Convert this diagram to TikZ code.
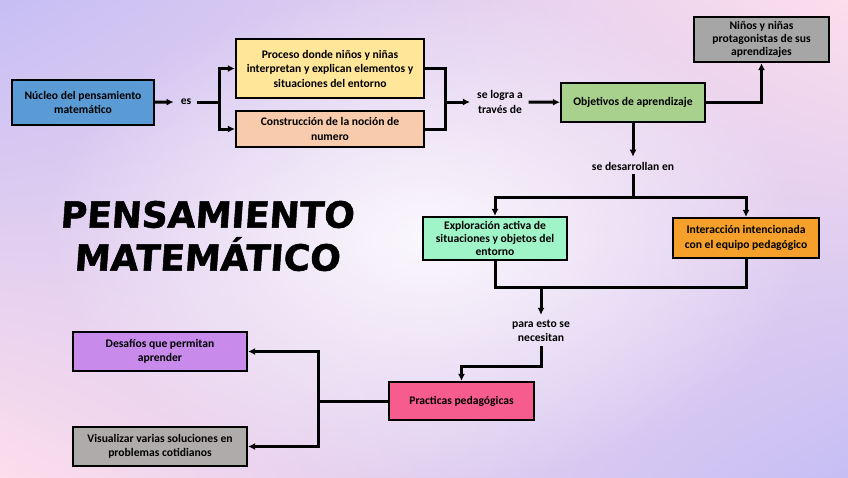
\documentclass[tikz,border=0pt]{standalone}
\usepackage{fontspec}
\setmainfont{Carlito}
\newfontfamily\titlefont[FakeBold=1.4,FakeSlant=0.07]{DejaVu Sans Bold}
\usetikzlibrary{arrows.meta,fadings,shadings}
\tikzfading[name=glow,inner color=transparent!0,outer color=transparent!100]
\definecolor{bglav}{RGB}{198,190,244}
\definecolor{bgpink}{RGB}{252,222,236}
\definecolor{pmblue}{RGB}{91,155,213}
\definecolor{pmyellow}{RGB}{255,230,153}
\definecolor{pmpeach}{RGB}{248,203,173}
\definecolor{pmgreen}{RGB}{169,209,142}
\definecolor{pmgray}{RGB}{166,166,166}
\definecolor{pmmint}{RGB}{160,245,200}
\definecolor{pmorange}{RGB}{244,160,43}
\definecolor{pmpink}{RGB}{246,92,142}
\definecolor{pmpurple}{RGB}{200,138,235}
\definecolor{pmgrey}{RGB}{175,171,171}

\begin{document}
\begin{tikzpicture}[x=1pt,y=-1pt,>={Latex[length=7pt,width=7pt]},
    font=\fontsize{11.6}{14.5}\selectfont\bfseries,
    every node/.style={align=center},
    box/.style={draw=black,line width=2.2pt,inner sep=1pt},
    tight/.style={font=\fontsize{11.6}{12.8}\selectfont\bfseries},
    lbl/.style={inner xsep=7pt,inner ysep=5pt},
    link/.style={line width=3pt,line cap=rect}]
    % fondo
    \useasboundingbox (0,0) rectangle (848,477);
    \shade[upper left=bglav,upper right=bgpink,lower left=bgpink,lower right=bglav] (0,0) rectangle (848,477);
    \fill[white,opacity=0.85,path fading=glow] (424,238) ellipse (380 and 250);
    % titulo
    \node[font=\titlefont\fontsize{36}{43}\selectfont] (titulo) at (207,236) {PENSAMIENTO\\MATEMÁTICO};
    % nodos
    \node[box,fill=pmblue,minimum width=142,minimum height=45] (nucleo) at (83,102.5) {Núcleo del pensamiento\\matemático};
    \node[lbl] (es) at (186,102) {es};
    \node[box,fill=pmyellow,minimum width=188,minimum height=59] (proceso) at (330,68.5) {Proceso donde niños y niñas\\interpretan y explican elementos y\\situaciones del entorno};
    \node[box,fill=pmpeach,minimum width=188,minimum height=36] (construccion) at (330,129) {Construcción de la noción de\\numero};
    \node[lbl] (logra) at (500,102) {se logra a\\través de};
    \node[box,fill=pmgreen,minimum width=144,minimum height=39] (objetivos) at (633,102.5) {Objetivos de aprendizaje};
    \node[box,fill=pmgray,minimum width=135,minimum height=45,tight] (ninos) at (761.5,39.5) {Niños y niñas\\protagonistas de sus\\aprendizajes};
    \node[lbl] (desarrollan) at (633,166) {se desarrollan en};
    \node[box,fill=pmmint,minimum width=144,minimum height=43,tight] (exploracion) at (495,238.5) {Exploración activa de\\situaciones y objetos del\\entorno};
    \node[box,fill=pmorange,minimum width=146,minimum height=40] (interaccion) at (746,238) {Interacción intencionada\\con el equipo pedagógico};
    \node[lbl] (necesitan) at (541,331) {para esto se\\necesitan};
    \node[box,fill=pmpink,minimum width=145,minimum height=38] (practicas) at (461.5,401) {Practicas pedagógicas};
    \node[box,fill=pmpurple,minimum width=174,minimum height=39] (desafios) at (160,351.5) {Desafíos que permitan\\aprender};
    \node[box,fill=pmgrey,minimum width=174,minimum height=39] (visualizar) at (160,446.5) {Visualizar varias soluciones en\\problemas cotidianos};
    % uniones
    \coordinate (j1) at (219,102);
    \coordinate (j2) at (445,102);
    \coordinate (j3) at (633,197);
    \coordinate (j4) at (541,287);
    \coordinate (j5) at (541,366);
    \coordinate (j6) at (318,401);
    % conectores
    \draw[link,->] (nucleo) -- (es);
    \draw[link] (es) -- (j1);
    \draw[link,->] (j1) |- (proceso);
    \draw[link,->] (j1) |- (construccion);
    \draw[link] (proceso) -| (j2);
    \draw[link] (construccion) -| (j2);
    \draw[link,->] (j2) -- (logra);
    \draw[link,->] (logra) -- (objetivos);
    \draw[link,->] (objetivos) -| (ninos);
    \draw[link,->] (objetivos) -- (desarrollan);
    \draw[link] (desarrollan) -- (j3);
    \draw[link,->] (j3) -| (exploracion);
    \draw[link,->] (j3) -| (interaccion);
    \draw[link] (exploracion) |- (j4) -| (interaccion);
    \draw[link,->] (j4) -- (necesitan);
    \draw[link,->] (necesitan) -- (j5) -| (practicas);
    \draw[link] (practicas) -- (j6);
    \draw[link,->] (j6) |- (desafios);
    \draw[link,->] (j6) |- (visualizar);
\end{tikzpicture}
\end{document}
